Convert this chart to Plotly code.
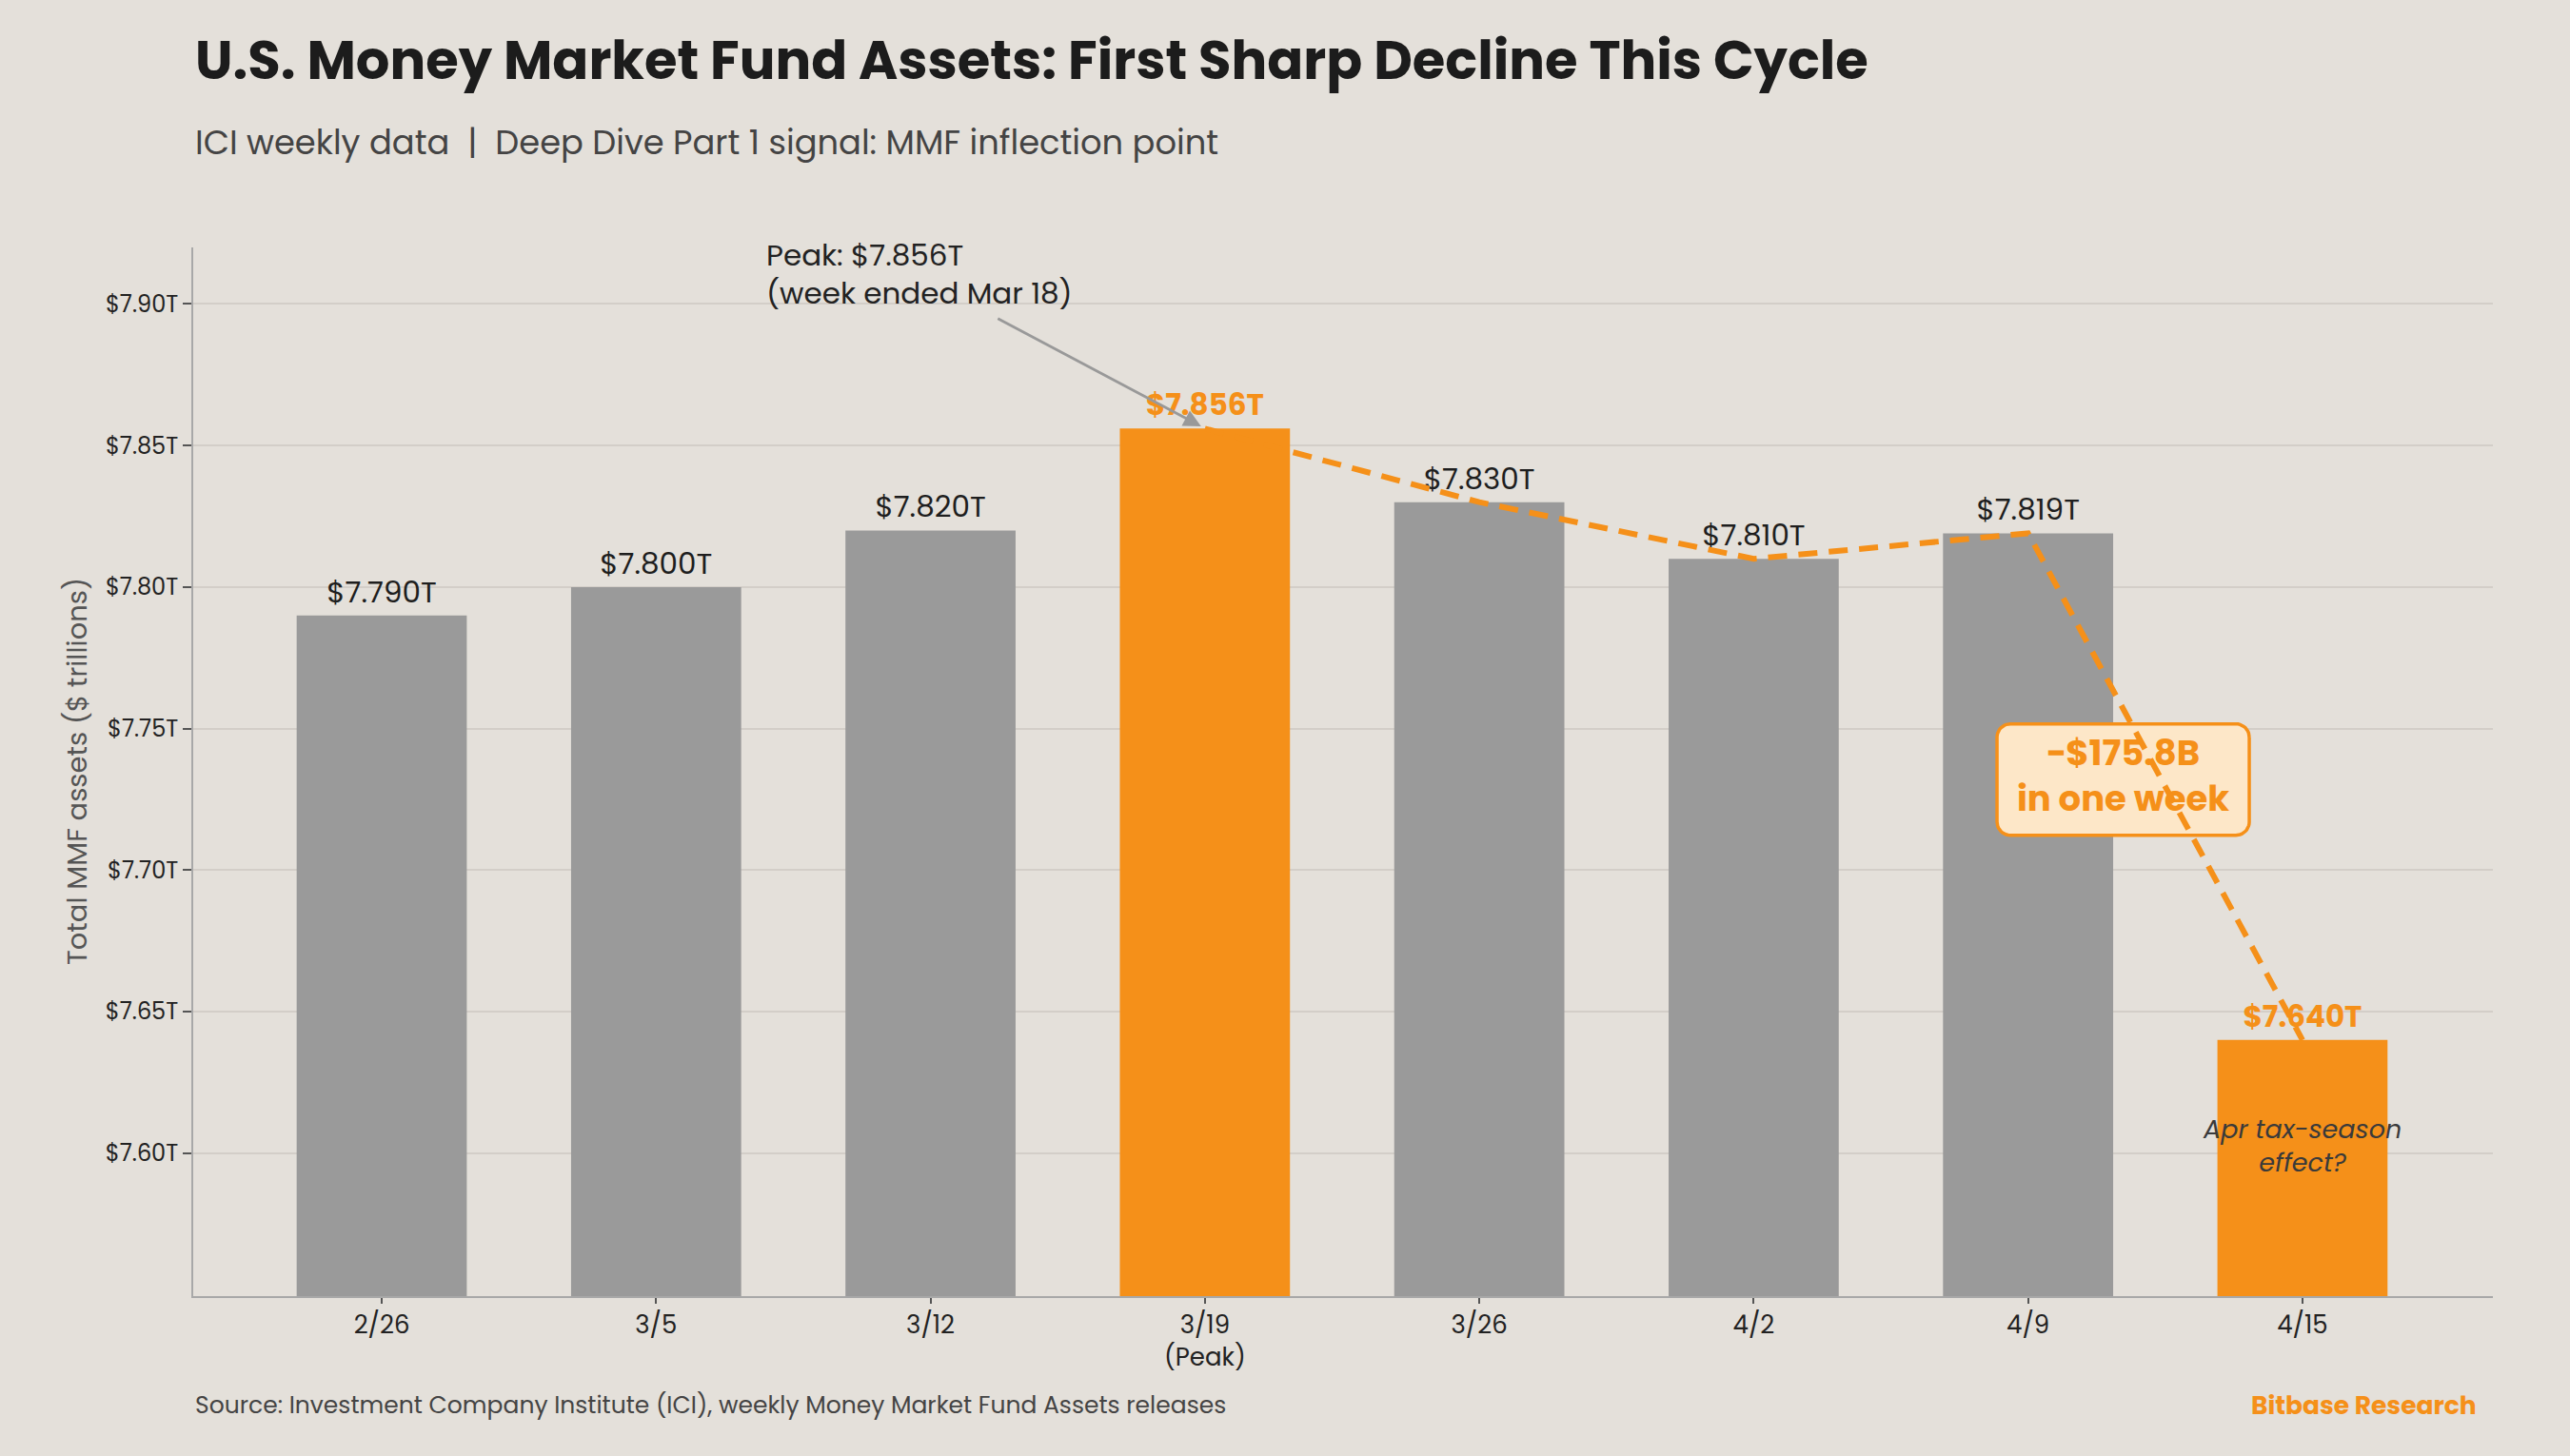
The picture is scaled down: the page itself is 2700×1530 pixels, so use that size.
import math
import plotly.graph_objects as go

# ---------------- data ----------------
weeks = ["2/26", "3/5", "3/12", "3/19", "3/26", "4/2", "4/9", "4/15"]
tick_text = ["2/26", "3/5", "3/12", "3/19<br>(Peak)", "3/26", "4/2", "4/9", "4/15"]
assets_t = [7.790, 7.800, 7.820, 7.856, 7.830, 7.810, 7.819, 7.640]
highlight = [False, False, False, True, False, False, False, True]
trend_start = 3  # dashed line from peak week onward
y_ticks = [7.60, 7.65, 7.70, 7.75, 7.80, 7.85, 7.90]

# ---------------- style ----------------
BG = "#E4E0DA"
GRAY = "#9A9A9A"
ORANGE = "#F59019"
DARK = "#1E1E1E"
FONT = "Poppins, Inter, sans-serif"

W, H = 2700, 1530
M_L, M_R, M_T, M_B = 203, 81, 260, 168
X_RANGE = [-0.687, 7.694]
Y_RANGE = [7.5495, 7.920]
px_per_x = (W - M_L - M_R) / (X_RANGE[1] - X_RANGE[0])
px_per_y = (H - M_T - M_B) / (Y_RANGE[1] - Y_RANGE[0])

x_idx = list(range(len(weeks)))
bar_colors = [ORANGE if h else GRAY for h in highlight]
labels = [f"<b>${v:.3f}T</b>" if h else f"${v:.3f}T" for v, h in zip(assets_t, highlight)]
label_colors = [ORANGE if h else DARK for h in highlight]

fig = go.Figure()

fig.add_trace(go.Bar(
    x=x_idx, y=assets_t, width=0.62,
    marker=dict(color=bar_colors, line=dict(width=0)),
    text=labels, textposition="outside",
    textfont=dict(family=FONT, size=31, color=label_colors),
    cliponaxis=False, hoverinfo="skip", showlegend=False,
))

# rounded callout box (decoration)
def rounded_box(cx, cy, w_px, h_px, r_px, n=10):
    hw, hh = w_px / 2, h_px / 2
    corners = [(hw - r_px, hh - r_px, 0), (-hw + r_px, hh - r_px, 90),
               (-hw + r_px, -hh + r_px, 180), (hw - r_px, -hh + r_px, 270)]
    xs, ys = [], []
    for ox, oy, a0 in corners:
        for k in range(n + 1):
            a = math.radians(a0 + 90 * k / n)
            px = ox + r_px * math.cos(a)
            py = oy + r_px * math.sin(a)
            xs.append(cx + px / px_per_x)
            ys.append(cy + py / px_per_y)
    xs.append(xs[0]); ys.append(ys[0])
    return xs, ys

box_cx, box_cy = 6.3465, 7.732
bx, by = rounded_box(box_cx, box_cy, 265, 117, 14)
fig.add_trace(go.Scatter(
    x=bx, y=by, mode="lines", fill="toself", fillcolor="#FDE7C8",
    line=dict(color=ORANGE, width=3.5), hoverinfo="skip", showlegend=False,
))
fig.add_trace(go.Scatter(
    x=[box_cx], y=[box_cy], mode="text",
    text=["<b>−$175.8B<br>in one week</b>"],
    textfont=dict(family=FONT, size=37, color=ORANGE),
    hoverinfo="skip", showlegend=False,
))

# dashed trend line
fig.add_trace(go.Scatter(
    x=x_idx[trend_start:], y=assets_t[trend_start:], mode="lines",
    line=dict(color=ORANGE, width=6, dash="20px,12px"),
    hoverinfo="skip", showlegend=False, cliponaxis=False,
))

def py2paper(py):
    return (H - M_B - py) / (H - M_T - M_B)

def px2paper(px):
    return (px - M_L) / (W - M_L - M_R)

annotations = [
    dict(text="<b>U.S. Money Market Fund Assets: First Sharp Decline This Cycle</b>",
         xref="paper", yref="paper", x=0, y=py2paper(64), xanchor="left", yanchor="middle",
         showarrow=False, font=dict(family=FONT, size=56, color="#1C1C1C")),
    dict(text="ICI weekly data\u00a0\u00a0|\u00a0\u00a0Deep Dive Part 1 signal: MMF inflection point",
         xref="paper", yref="paper", x=0, y=py2paper(149), xanchor="left", yanchor="middle",
         showarrow=False, font=dict(family=FONT, size=35.3, color="#444444")),
    dict(text="Source: Investment Company Institute (ICI), weekly Money Market Fund Assets releases",
         xref="paper", yref="paper", x=0, y=py2paper(1476), xanchor="left", yanchor="middle",
         showarrow=False, font=dict(family=FONT, size=25, color="#444444")),
    dict(text="<b>Bitbase Research</b>",
         xref="paper", yref="paper", x=px2paper(2604), y=py2paper(1476), xanchor="right", yanchor="middle",
         showarrow=False, font=dict(family=FONT, size=26.5, color=ORANGE)),
    dict(text="Total MMF assets ($ trillions)", textangle=-90,
         xref="paper", yref="paper", x=px2paper(81), y=0.5, xanchor="center", yanchor="middle",
         showarrow=False, font=dict(family=FONT, size=29, color="#555555")),
    dict(text="Peak: $7.856T<br>(week ended Mar 18)", align="left",
         xref="paper", yref="paper", x=px2paper(803), y=py2paper(288), xanchor="left", yanchor="middle",
         showarrow=False, font=dict(family=FONT, size=31, color="#222222")),
    dict(text="", x=2.986, y=7.8568, xref="x", yref="y", ax=-215, ay=-114,
         showarrow=True, arrowhead=2, arrowsize=1.3, arrowwidth=2.8, arrowcolor="#999999"),
    dict(text="<i>Apr tax-season<br>effect?</i>", x=7, y=7.6025, xref="x", yref="y",
         showarrow=False, font=dict(family=FONT, size=27, color="#3A3A3A")),
]

fig.update_layout(
    width=W, height=H, autosize=False,
    margin=dict(l=M_L, r=M_R, t=M_T, b=M_B, pad=0),
    paper_bgcolor=BG, plot_bgcolor=BG,
    font=dict(family=FONT, color=DARK),
    showlegend=False, bargap=0.38,
    annotations=annotations,
    xaxis=dict(range=X_RANGE, tickvals=x_idx, ticktext=tick_text,
               showgrid=False, zeroline=False,
               showline=True, linecolor="#A8A8A8", linewidth=2,
               ticks="outside", ticklen=6, tickwidth=1.5, tickcolor="#555555",
               tickfont=dict(family=FONT, size=26, color="#222222")),
    yaxis=dict(range=Y_RANGE, tickvals=y_ticks, ticktext=[f"${v:.2f}T" for v in y_ticks],
               showgrid=True, gridcolor="#D3CEC8", gridwidth=1.5, zeroline=False,
               showline=True, linecolor="#A8A8A8", linewidth=2,
               ticks="outside", ticklen=9, tickwidth=1.5, tickcolor="#555555",
               tickfont=dict(family=FONT, size=24, color="#222222")),
)

fig.write_html("out.html")
